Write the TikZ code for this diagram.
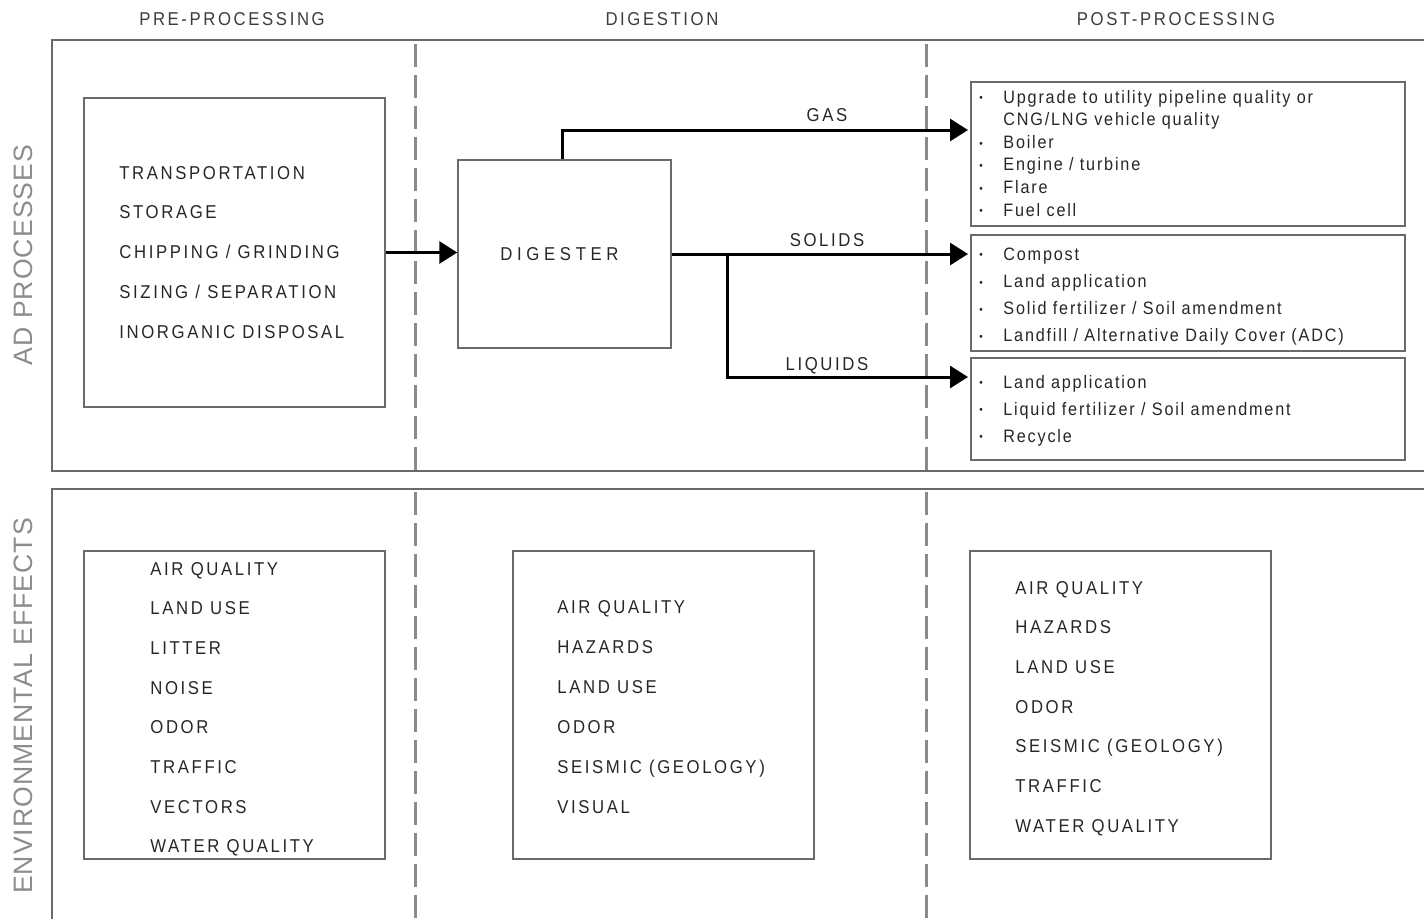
\documentclass[tikz,border=0pt]{standalone}
\usepackage{fontspec}
\setmainfont{Liberation Sans}
\newfontfamily\itemfont[FakeStretch=0.9,LetterSpace=14]{Liberation Sans}
\newfontfamily\listfont[FakeStretch=0.9,LetterSpace=10]{Liberation Sans}
\newfontfamily\sidefont[LetterSpace=4]{Liberation Sans}
\usetikzlibrary{arrows.meta}

\definecolor{framegray}{HTML}{6A6A6A}
\definecolor{dashgray}{HTML}{8A8A8A}
\definecolor{sidegray}{HTML}{8C8C8C}
\definecolor{textgray}{HTML}{262626}

\tikzstyle{box} = [rectangle, draw=framegray, line width=0.75pt, inner sep=0pt]
\tikzstyle{item} = [anchor=base west, inner sep=0pt, text=textgray,
                    font=\itemfont\fontsize{9.3}{11}\selectfont]
\tikzstyle{bullet} = [anchor=base west, inner sep=0pt, text=textgray,
                      font=\listfont\fontsize{9}{11}\selectfont]
\tikzstyle{heading} = [anchor=base, inner sep=0pt, text=textgray!90,
                       font=\itemfont\fontsize{9.3}{11}\selectfont]
\tikzstyle{sidelabel} = [rotate=90, inner sep=0pt, text=sidegray,
                         font=\sidefont\fontsize{13.3}{15}\selectfont]
\tikzstyle{flowlabel} = [anchor=base, inner sep=0pt, text=textgray,
                         font=\itemfont\fontsize{9.3}{11}\selectfont]
\tikzstyle{flow} = [line width=1.5pt, -{Triangle[length=9pt,width=11pt]}]
\tikzstyle{divider} = [dashgray, line width=1.5pt, dash pattern=on 11.5pt off 4pt]

% box from its two corners (x1,y1) (x2,y2)
\newcommand{\drawBox}[5]
{
  \node (#1) [box, minimum width={(#4-#2)*0.5pt}, minimum height={(#5-#3)*0.5pt}]
        at ({(#2+#4)/2}, {(#3+#5)/2}) {};
}
\newcommand{\bitem}[1]{\makebox[12pt][l]{\raisebox{0.6pt}{\fontsize{5.5}{6}\selectfont •}}#1}
\newcommand{\bcont}[1]{\makebox[12pt][l]{}#1}

\begin{document}
\begin{tikzpicture}[x=0.5pt, y=-0.5pt]
\useasboundingbox (0,0) rectangle (1424,918);

% panels
\drawBox{ad-panel}{52}{40}{1450}{471}
\drawBox{env-panel}{52}{489}{1450}{940}

\draw [divider] (415,44) -- (415,470);
\draw [divider] (926,44) -- (926,470);
\draw [divider] (415,492) -- (415,918);
\draw [divider] (926,492) -- (926,918);

% column headings
\node (pre-head) [heading] at (232,25) {PRE-PROCESSING};
\node (dig-head) [heading] at (662,25) {DIGESTION};
\node (post-head) [heading] at (1176,25) {POST-PROCESSING};

\node (ad-side) [sidelabel] at (23,255) {AD PROCESSES};
\node (env-side) [sidelabel] at (23,706) {ENVIRONMENTAL EFFECTS};

% AD processes
\drawBox{pre}{84}{98}{385}{407}
\foreach \txt [count=\i] in {TRANSPORTATION, STORAGE, CHIPPING / GRINDING,
                             SIZING / SEPARATION, INORGANIC DISPOSAL}
  \node (pre-\i) [item] at (119, {179+39.8*(\i-1)}) {\txt};

\drawBox{digester}{458}{160}{671}{348}
\node (digester-text) [item, anchor=center, xshift=-2.5pt] at (digester)
      {\addfontfeatures{LetterSpace=25}DIGESTER};

\drawBox{gasbox}{971}{82}{1405}{226}
\drawBox{solidsbox}{971}{235}{1405}{351}
\drawBox{liquidsbox}{971}{358}{1405}{460}

\foreach \txt [count=\i] in {\bitem{Upgrade to utility pipeline quality or},
                             \bcont{CNG/LNG vehicle quality}, \bitem{Boiler},
                             \bitem{Engine / turbine}, \bitem{Flare}, \bitem{Fuel cell}}
  \node (gas-\i) [bullet] at (979, {103+22.6*(\i-1)}) {\txt};
\foreach \txt [count=\i] in {\bitem{Compost}, \bitem{Land application},
                             \bitem{Solid fertilizer / Soil amendment},
                             \bitem{Landfill / Alternative Daily Cover (ADC)}}
  \node (solids-\i) [bullet] at (979, {260+27.2*(\i-1)}) {\txt};
\foreach \txt [count=\i] in {\bitem{Land application},
                             \bitem{Liquid fertilizer / Soil amendment}, \bitem{Recycle}}
  \node (liquids-\i) [bullet] at (979, {388+27*(\i-1)}) {\txt};

\coordinate (gas-turn) at (562,130);
\coordinate (gas-tip) at (968,130);
\coordinate (solids-tip) at (digester.east -| gas-tip);
\coordinate (branch) at (727,0);
\coordinate (liquids-tip) at (968,377);

\draw [flow] (pre.east) -- (pre.east -| digester.west);
\draw [flow] (gas-turn |- digester.north) -- (gas-turn) -- (gas-tip);
\draw [flow] (digester.east) -- (solids-tip);
\draw [flow] (branch |- digester.east) |- (liquids-tip);

\node (gas-label) [flowlabel] at (827,121) {GAS};
\node (solids-label) [flowlabel] at (827,246) {SOLIDS};
\node (liquids-label) [flowlabel] at (827,370) {LIQUIDS};

% environmental effects
\drawBox{pre-env}{84}{551}{385}{859}
\drawBox{dig-env}{513}{551}{814}{859}
\drawBox{post-env}{970}{551}{1271}{859}

\foreach \txt [count=\i] in {AIR QUALITY, LAND USE, LITTER, NOISE, ODOR, TRAFFIC,
                             VECTORS, WATER QUALITY}
  \node (pre-env-\i) [item] at (150, {575+39.7*(\i-1)}) {\txt};
\foreach \txt [count=\i] in {AIR QUALITY, HAZARDS, LAND USE, ODOR,
                             SEISMIC (GEOLOGY), VISUAL}
  \node (dig-env-\i) [item] at (557, {613+40*(\i-1)}) {\txt};
\foreach \txt [count=\i] in {AIR QUALITY, HAZARDS, LAND USE, ODOR,
                             SEISMIC (GEOLOGY), TRAFFIC, WATER QUALITY}
  \node (post-env-\i) [item] at (1015, {594+39.7*(\i-1)}) {\txt};

\end{tikzpicture}
\end{document}
